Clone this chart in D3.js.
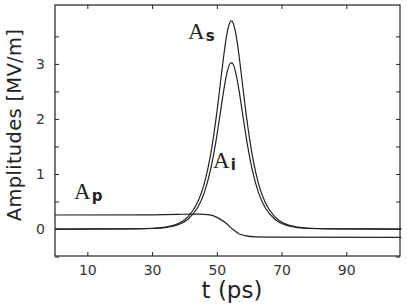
<!DOCTYPE html>
<html><head><meta charset="utf-8">
<script src="https://cdn.jsdelivr.net/npm/d3@7"></script>
<style>body{margin:0;background:#fff}svg{display:block}</style>
</head><body>
<svg id="c" width="407" height="307"></svg>
<script>
// Data
const tS = [0,20,30,34,38,41,44,46,48,50,51,52,53,54,54.5,55,56,57,58,59,61,63,65,68,71,75,79,90,107];
const As = [0,0.001,0.012,0.034,0.098,0.217,0.477,0.799,1.324,2.115,2.598,3.087,3.503,3.748,3.78,3.748,3.503,3.087,2.598,2.115,1.324,0.799,0.477,0.217,0.098,0.034,0.012,0.001,0];
const Ai = [0,0.001,0.010,0.027,0.078,0.174,0.381,0.639,1.059,1.692,2.078,2.470,2.802,2.998,3.02,2.998,2.802,2.470,2.078,1.692,1.059,0.639,0.381,0.174,0.078,0.027,0.010,0.001,0];
const tP = [0,30,38,42,45,47,49,51,53,55,57,59,62,70,107];
const Ap = [0.255,0.258,0.265,0.272,0.272,0.262,0.238,0.18,0.10,-0.01,-0.09,-0.125,-0.142,-0.148,-0.15];
const xTicks = [10,30,50,70,90];
const yTicks = [-0.5,0,0.5,1,1.5,2,2.5,3,3.5];
const yLabels = [0,1,2,3];

const svg = d3.select("#c");
const L=55, R=400, T=5, B=256;
const x = d3.scaleLinear().domain([0,106.6]).range([L,R]);
const y = d3.scaleLinear().domain([-0.49,4.07]).range([B,T]);
const ink = "#222";

// frame
svg.append("rect").attr("x",L).attr("y",T).attr("width",R-L).attr("height",B-T)
  .attr("fill","none").attr("stroke",ink).attr("stroke-width",1.2);

// axes (inward ticks)
const gB = svg.append("g").attr("transform",`translate(0,${B})`)
  .call(d3.axisBottom(x).tickValues(xTicks).tickSize(-4).tickPadding(9).tickFormat(d3.format("d")));
const gT = svg.append("g").attr("transform",`translate(0,${T})`)
  .call(d3.axisTop(x).tickValues(xTicks).tickSize(-4).tickFormat(""));
const gL = svg.append("g").attr("transform",`translate(${L},0)`)
  .call(d3.axisLeft(y).tickValues(yTicks).tickSize(-4).tickPadding(10)
    .tickFormat(d => yLabels.includes(d) ? d3.format("d")(d) : ""));
const gR = svg.append("g").attr("transform",`translate(${R},0)`)
  .call(d3.axisRight(y).tickValues(yTicks).tickSize(-4).tickFormat(""));
[gB,gT,gL,gR].forEach(g=>{
  g.select(".domain").remove();
  g.selectAll("line").attr("stroke",ink).attr("stroke-width",1);
  g.selectAll("text").attr("fill","#333").style("font-family","DejaVu Sans").style("font-size","14px");
});

// curves
const line = d3.line().curve(d3.curveMonotoneX);
function draw(ts, vs){
  svg.append("path").attr("d", line(ts.map((t,i)=>[x(t), y(vs[i])])))
    .attr("fill","none").attr("stroke",ink).attr("stroke-width",1.2);
}
draw(tS, As); draw(tS, Ai); draw(tP, Ap);

// curve labels
function lab(px, py, sub){
  const t = svg.append("text").attr("x",px).attr("y",py).attr("fill",ink);
  t.append("tspan").text("A").style("font-family","Liberation Serif").style("font-size","23px");
  t.append("tspan").text(sub).attr("dx",1).attr("dy",2).style("font-family","DejaVu Sans").style("font-weight","bold").style("font-size","15px");
}
lab(188, 39, "s");
lab(213, 168, "i");
lab(74, 199, "p");

// axis titles
svg.append("text").attr("x",232).attr("y",298).attr("text-anchor","middle")
  .style("font-family","DejaVu Sans").style("font-size","23px").attr("fill",ink).text("t (ps)");
svg.append("text").attr("transform","translate(21,125) rotate(-90)").attr("text-anchor","middle")
  .style("font-family","DejaVu Sans").style("font-size","19.5px").style("letter-spacing","0.3px").attr("fill",ink).text("Amplitudes [MV/m]");
</script>
</body></html>
